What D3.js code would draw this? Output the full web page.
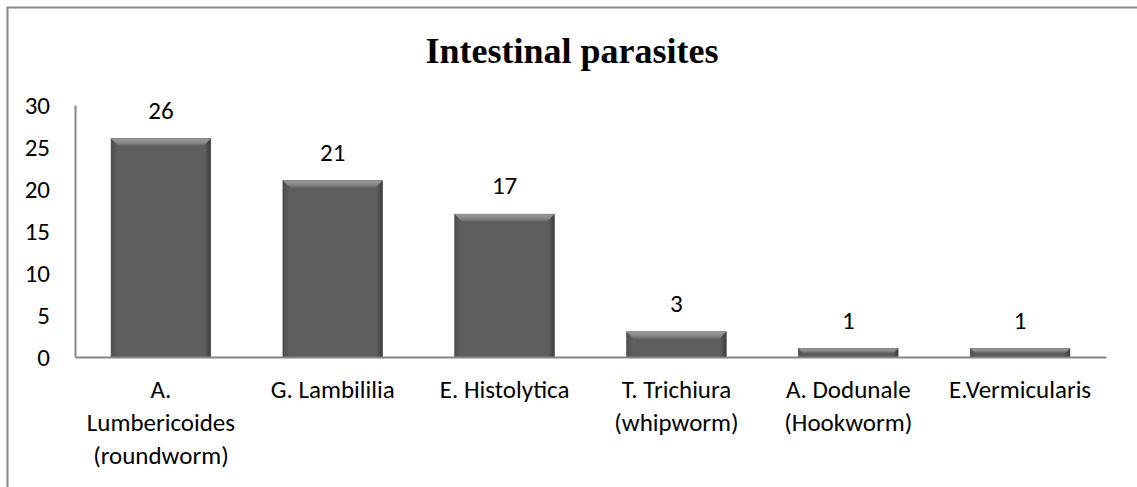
<!DOCTYPE html>
<html>
<head>
<meta charset="utf-8">
<script src="https://cdn.jsdelivr.net/npm/d3@7"></script>
<style>
  body { margin: 0; background: #fff; }
  .axis path, .axis line { stroke: #868686; }
  text { fill: #000; }
</style>
</head>
<body>
<div class="container"></div>
<script>
const WIDTH = 1137;
const HEIGHT = 487;
const LABEL_FONT = "Carlito, Calibri, Lato, sans-serif";

// chart data
var categories = [
  ["A.", "Lumbericoides", "(roundworm)"],
  ["G. Lambililia"],
  ["E. Histolytica"],
  ["T. Trichiura", "(whipworm)"],
  ["A. Dodunale", "(Hookworm)"],
  ["E.Vermicularis"]
];
var values = [26, 21, 17, 3, 1, 1];
var yTicks = [0, 5, 10, 15, 20, 25, 30];
var title = "Intestinal parasites";

var keys = categories.map(function(c){ return c.join(" "); });

var translate = function(x, y){
  return "translate(" + x + "," + y + ")";
};

var svg = d3.select(".container").append("svg")
  .attr("width", WIDTH)
  .attr("height", HEIGHT);

// outer frame (runs off the right and bottom edge)
svg.append("rect")
  .attr("x", 7.5).attr("y", 7.5)
  .attr("width", 1200).attr("height", 600)
  .attr("fill", "none")
  .attr("stroke", "#878787")
  .attr("stroke-width", 2);

svg.append("text")
  .attr("x", 572).attr("y", 63)
  .attr("text-anchor", "middle")
  .style("font-family", "'Liberation Serif', 'Times New Roman', serif")
  .style("font-weight", "bold")
  .style("font-size", "36px")
  .text(title);

var xScale = d3.scaleBand()
  .domain(keys)
  .range([75, 1106])
  .paddingInner(0.42)
  .paddingOuter(0.21);

var yScale = d3.scaleLinear()
  .domain([0, 30])
  .range([357, 105]);

// gradients for the bevelled bars
var defs = svg.append("defs");
var body = defs.append("linearGradient").attr("id", "barBody")
  .attr("x1", 0).attr("x2", 1).attr("y1", 0).attr("y2", 0);
body.append("stop").attr("offset", "0%").attr("stop-color", "#4e4e4e");
body.append("stop").attr("offset", "6%").attr("stop-color", "#5e5e5e");
body.append("stop").attr("offset", "94%").attr("stop-color", "#5e5e5e");
body.append("stop").attr("offset", "100%").attr("stop-color", "#3c3c3c");
var top_ = defs.append("linearGradient").attr("id", "barTop")
  .attr("x1", 0).attr("x2", 0).attr("y1", 0).attr("y2", 1);
top_.append("stop").attr("offset", "0%").attr("stop-color", "#9a9a9a");
top_.append("stop").attr("offset", "50%").attr("stop-color", "#8a8a8a");
top_.append("stop").attr("offset", "100%").attr("stop-color", "#6a6a6a");

var bars = svg.append("g").attr("class", "bars")
  .selectAll("g").data(values).enter().append("g");

bars.append("rect")
  .attr("x", function(d, i){ return xScale(keys[i]); })
  .attr("y", function(d){ return yScale(d); })
  .attr("width", xScale.bandwidth())
  .attr("height", function(d){ return yScale(0) - yScale(d); })
  .attr("fill", "url(#barBody)")
  .attr("stroke", "#444")
  .attr("stroke-width", 0.6);

// top bevel
bars.append("path")
  .attr("d", function(d, i){
    var x0 = xScale(keys[i]), x1 = x0 + xScale.bandwidth();
    var y0 = yScale(d);
    var b = Math.min(7, (yScale(0) - y0) / 2);
    return "M" + x0 + "," + y0 + "L" + x1 + "," + y0 +
      "L" + (x1 - b) + "," + (y0 + b) + "L" + (x0 + b) + "," + (y0 + b) + "Z";
  })
  .attr("fill", "url(#barTop)");

bars.append("text")
  .attr("x", function(d, i){ return xScale(keys[i]) + xScale.bandwidth() / 2; })
  .attr("y", function(d){ return yScale(d) - 20; })
  .attr("text-anchor", "middle")
  .style("font-family", LABEL_FONT)
  .style("font-size", "25px")
  .text(function(d){ return d; });

var yAxis = d3.axisLeft(yScale).tickValues(yTicks).tickSize(0).tickPadding(25);
var gy = svg.append("g").attr("class", "axis")
  .attr("transform", translate(75, 0))
  .call(yAxis);
gy.select(".domain").attr("stroke-width", 2);
gy.selectAll("text")
  .style("font-family", LABEL_FONT)
  .style("font-size", "25px")
  .attr("fill", "#000");

var xAxis = d3.axisBottom(xScale).tickSize(0).tickFormat("");
var gx = svg.append("g").attr("class", "axis")
  .attr("transform", translate(0, 357))
  .call(xAxis);
gx.select(".domain").attr("stroke-width", 2);

// wrapped category labels
var labels = svg.append("g").selectAll("text").data(categories).enter().append("text")
  .attr("text-anchor", "middle")
  .style("font-family", LABEL_FONT)
  .style("font-size", "25px")
  .attr("transform", function(d, i){
    return translate(xScale(keys[i]) + xScale.bandwidth() / 2, 398);
  });
labels.selectAll("tspan").data(function(d){ return d; }).enter().append("tspan")
  .attr("x", 0)
  .attr("y", function(d, j){ return j * 33; })
  .text(function(d){ return d; });
</script>
</body>
</html>
